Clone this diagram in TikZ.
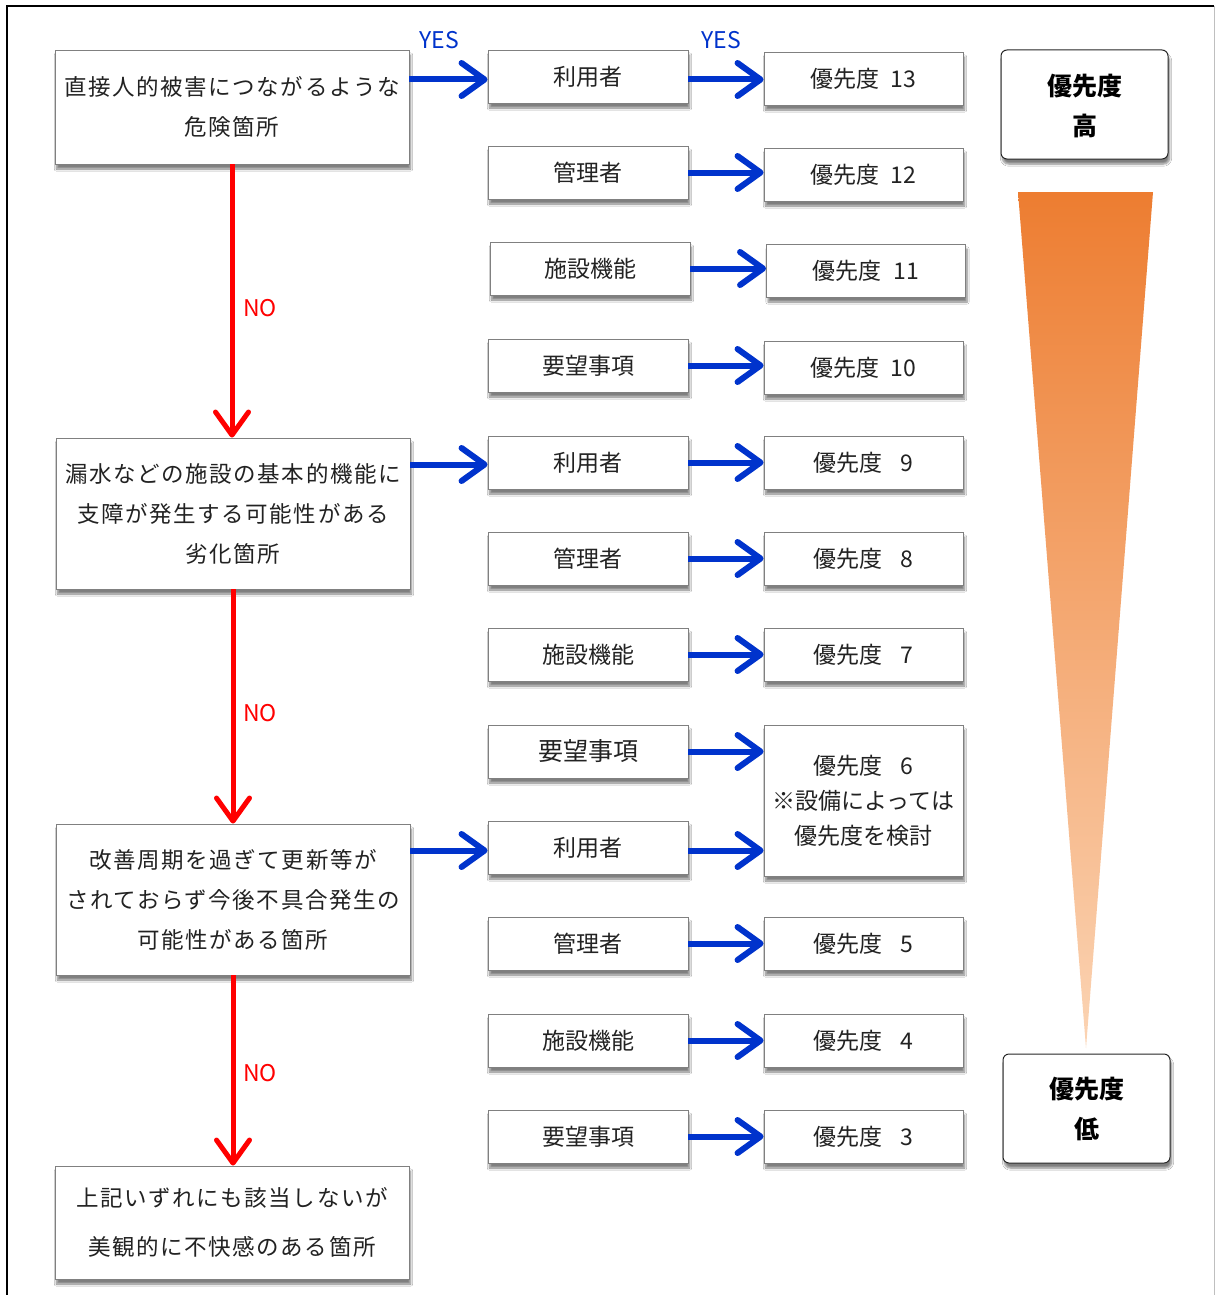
\documentclass[tikz,border=0pt]{standalone}
\usepackage{fontspec}
\setmainfont{Noto Sans CJK JP}
\newfontfamily\jpwide[LetterSpace=7]{Noto Sans CJK JP}
\usetikzlibrary{arrows.meta,shadows.blur}
\definecolor{bblue}{RGB}{0,51,204}
\definecolor{rred}{RGB}{255,0,0}
\definecolor{txt}{RGB}{34,34,34}
\definecolor{orgtop}{RGB}{237,125,49}
\definecolor{orgbot}{RGB}{251,212,180}
\tikzset{
  shd/.style={blur shadow={shadow xshift=1.5pt, shadow yshift=-5pt, shadow blur steps=6, shadow opacity=50}},
  lbox/.style={draw=black!50, line width=0.9pt, fill=white, shd, minimum width=354pt, inner sep=0pt, align=center, text=txt, font=\jpwide\fontsize{22.5}{40}\selectfont},
  mbox/.style={draw=black!50, line width=0.9pt, fill=white, shd, minimum width=200pt, minimum height=53pt, inner sep=0pt, align=center, text=txt, font=\fontsize{23}{27}\selectfont},
  rbox/.style={mbox, minimum width=199pt},
  pbox/.style={draw=black!85, line width=1pt, rounded corners=6pt, fill=white, shd, minimum width=167pt, inner sep=0pt, align=center, text=black, font=\fontsize{25}{40}\selectfont\bfseries},
  barrow/.style={draw=bblue, line width=6pt, -{Straight Barb[length=23pt,width=33pt,round]}},
  rarrow/.style={draw=rred, line width=5pt, -{Straight Barb[length=23pt,width=33pt,round]}},
  ylab/.style={text=bblue, font=\fontsize{23}{26}\selectfont},
  nlab/.style={text=rred, font=\fontsize{23}{26}\selectfont}
}
\begin{document}
\begin{tikzpicture}[x=1pt,y=-1pt]
\useasboundingbox (0,0) rectangle (1216,1295);
\fill[white] (0,0) rectangle (1216,1295);
\draw[black, line width=1.2pt] (7,1295) -- (7,6) -- (1214,6);
\draw[black!25, line width=1pt] (1214,6) -- (1214,1295);
% triangle
\shade[top color=orgtop, bottom color=orgbot] (1018,192) -- (1153,192) -- (1086,1048) -- cycle;
% left boxes
\node[lbox, minimum height=114pt] (A) at (232,107) {直接人的被害につながるような\\危険箇所};
\node[lbox, minimum height=151pt] (B) at (233,513.5) {漏水などの施設の基本的機能に\\支障が発生する可能性がある\\劣化箇所};
\node[lbox, minimum height=151pt] (C) at (233,899.5) {改善周期を過ぎて更新等が\\されておらず今後不具合発生の\\可能性がある箇所};
\node[lbox, minimum height=113pt, font=\jpwide\fontsize{22.5}{49}\selectfont] (D) at (232,1222.5) {上記いずれにも該当しないが\\美観的に不快感のある箇所};
% middle boxes
\node[mbox] (m1) at (588,76.5) {利用者};
\node[mbox] (m2) at (588,172.5) {管理者};
\node[mbox] (m3) at (590,268.5) {施設機能};
\node[mbox] (m4) at (588,365.5) {要望事項};
\node[mbox] (m5) at (588,462.5) {利用者};
\node[mbox] (m6) at (588,558.5) {管理者};
\node[mbox] (m7) at (588,654.5) {施設機能};
\node[mbox, font=\fontsize{25}{30}\selectfont] (m8) at (588,751.5) {要望事項};
\node[mbox] (m9) at (588,847.5) {利用者};
\node[mbox] (m10) at (588,943.5) {管理者};
\node[mbox] (m11) at (588,1040.5) {施設機能};
\node[mbox] (m12) at (588,1136.5) {要望事項};
% right boxes
\node[rbox] (r13) at (863.5,78.5) {優先度\hspace{0.5em}13};
\node[rbox] (r12) at (863.5,174.5) {優先度\hspace{0.5em}12};
\node[rbox] (r11) at (866,270.5) {優先度\hspace{0.5em}11};
\node[rbox] (r10) at (863.5,367.5) {優先度\hspace{0.5em}10};
\node[rbox] (r9) at (863.5,462.5) {優先度\hspace{0.8em}9};
\node[rbox] (r8) at (863.5,558.5) {優先度\hspace{0.8em}8};
\node[rbox] (r7) at (863.5,654.5) {優先度\hspace{0.8em}7};
\node[rbox, minimum height=151pt, font=\fontsize{23}{35}\selectfont] (r6) at (863.5,800.5) {優先度\hspace{0.8em}6\\※設備によっては\\優先度を検討};
\node[rbox] (r5) at (863.5,943.5) {優先度\hspace{0.8em}5};
\node[rbox] (r4) at (863.5,1040.5) {優先度\hspace{0.8em}4};
\node[rbox] (r3) at (863.5,1136.5) {優先度\hspace{0.8em}3};
% priority labels
\node[pbox, minimum height=109pt, text depth=-3pt] (hi) at (1084.5,104.5) {優先度\\高};
\node[pbox, minimum height=109pt] (lo) at (1086.5,1108.5) {優先度\\低};
% red arrows
\draw[rarrow] (A.south) -- (A.south |- B.north);
\draw[rarrow] (B.south) -- (B.south |- C.north);
\draw[rarrow] (C.south) -- (C.south |- D.north);
% left -> middle
\draw[barrow] (m1.west -| A.east) ++(0,3) coordinate (a1s) (a1s) -- (a1s -| m1.west);
\draw[barrow] (m5.west -| B.east) ++(0,2) coordinate (b1s) (b1s) -- (b1s -| m5.west);
\draw[barrow] (m9.west -| C.east) ++(0,3) coordinate (c1s) (c1s) -- (c1s -| m9.west);
% middle -> right
\draw[barrow] (m1.east) ++(0,3) coordinate (e1) (e1) -- (e1 -| r13.west);
\foreach \m/\r in {m2/r12,m3/r11,m4/r10,m5/r9,m6/r8,m7/r7,m10/r5,m11/r4,m12/r3}{
  \draw[barrow] (\m.east) -- (\m.east -| \r.west);
}
\draw[barrow] (m8.east) -- (m8.east -| r6.west);
\draw[barrow] (m9.east) ++(0,3) coordinate (e9) (e9) -- (e9 -| r6.west);
% labels
\node[ylab] (y1) at (439,40) {YES};
\node[ylab] (y2) at (721,40) {YES};
\node[nlab] (n1) at (260,308) {NO};
\node[nlab] (n2) at (260,713) {NO};
\node[nlab] (n3) at (260,1073) {NO};
\end{tikzpicture}
\end{document}
